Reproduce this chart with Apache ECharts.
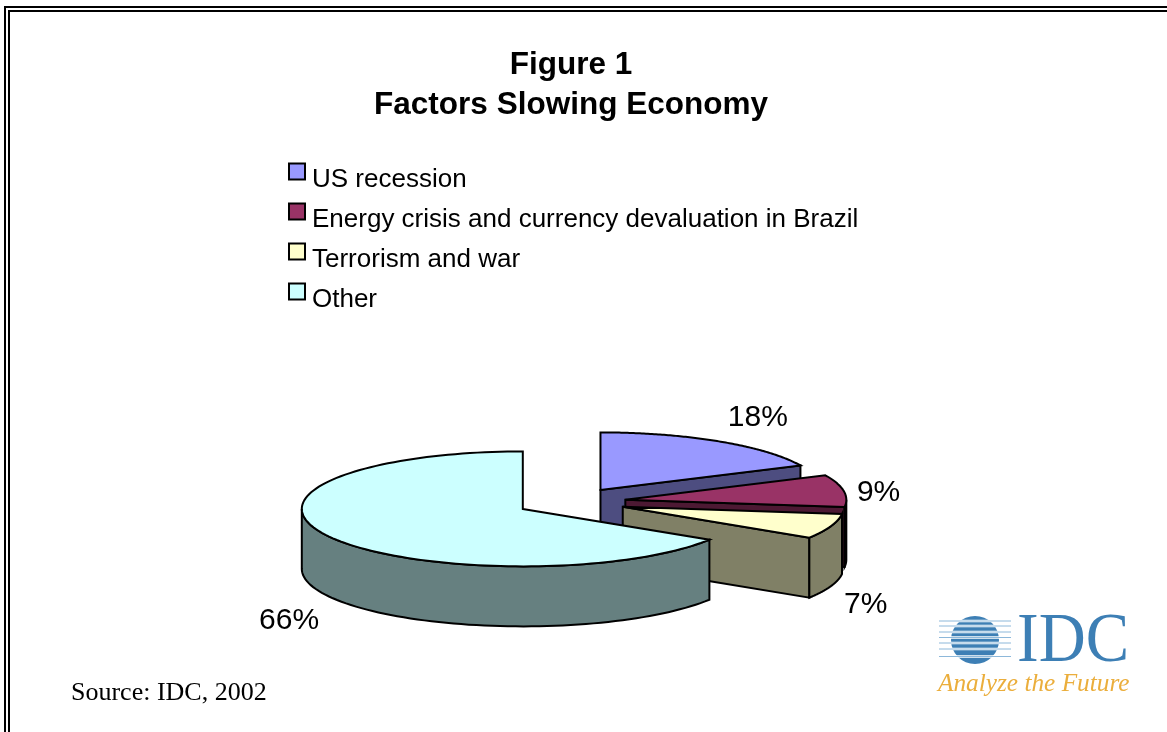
<!DOCTYPE html>
<html>
<head>
<meta charset="utf-8">
<style>html,body{margin:0;padding:0;background:#fff}#c{width:1167px;height:732px}</style>
<script src="https://cdn.jsdelivr.net/npm/echarts@6/dist/echarts.min.js"></script>
</head>
<body>
<div id="c"></div>
<script>
var categories = ['US recession', 'Energy crisis and currency devaluation in Brazil', 'Terrorism and war', 'Other'];
var values = [18, 9, 7, 66];
var topColors = ['#9999FF', '#993366', '#FFFFCC', '#CCFFFF'];
var wallColors = ['#4D4D80', '#4D1933', '#808066', '#668080'];
var titleLines = ['Figure 1', 'Factors Slowing Economy'];
var sourceNote = 'Source: IDC, 2002';
var logoWord = 'IDC';
var logoTagline = 'Analyze the Future';

var PIE = { cx: 571, cy: 502, rx: 221, ry: 57.5, depth: 60, explode: 55 };
var LABEL_NUDGE = [[39, -24], [35, 2], [35, 78], [-40, 84]];
var total = values.reduce(function (a, b) { return a + b; }, 0);

function angleBounds(i) {
  var before = 0;
  for (var k = 0; k < i; k++) before += values[k];
  return [before / total * 2 * Math.PI, (before + values[i]) / total * 2 * Math.PI];
}
function project(ox, oy, t, dz) {
  return [ox + Math.sin(t) * PIE.rx, oy - Math.cos(t) * PIE.ry + (dz || 0)];
}
function renderSlice(i) {
  return function (params, api) {
    var b = angleBounds(i), t0 = b[0], t1 = b[1], mid = (t0 + t1) / 2;
    var ox = PIE.cx + Math.sin(mid) * PIE.explode;
    var oy = PIE.cy - Math.cos(mid) * PIE.explode * PIE.ry / PIE.rx;
    var d = PIE.depth, children = [];
    var line = { stroke: '#000', lineWidth: 2, lineJoin: 'miter' };
    function poly(points, fill) {
      children.push({ type: 'polygon', shape: { points: points }, style: Object.assign({ fill: fill }, line) });
    }
    function wall(t) {
      var p = project(ox, oy, t);
      poly([[ox, oy], p, [p[0], p[1] + d], [ox, oy + d]], wallColors[i]);
    }
    if (Math.sin(t0) < -1e-6) wall(t0);
    if (Math.sin(t1) > 1e-6) wall(t1);
    var a = Math.max(t0, Math.PI / 2), z = Math.min(t1, 1.5 * Math.PI);
    if (z > a) {
      var up = [], down = [], n = 72;
      for (var s = 0; s <= n; s++) {
        var t = a + (z - a) * s / n;
        up.push(project(ox, oy, t));
        down.unshift(project(ox, oy, t, d));
      }
      poly(up.concat(down), wallColors[i]);
    }
    var top = [[ox, oy]], m = 120;
    for (var q = 0; q <= m; q++) top.push(project(ox, oy, t0 + (t1 - t0) * q / m));
    poly(top, topColors[i]);
    var rim = project(ox, oy, mid);
    children.push({
      type: 'text',
      style: {
        text: Math.round(api.value(0)) + '%',
        x: rim[0] + LABEL_NUDGE[i][0], y: rim[1] + LABEL_NUDGE[i][1],
        align: 'center', verticalAlign: 'middle',
        font: '30px "Liberation Sans"', fill: '#000'
      }
    });
    return { type: 'group', children: children };
  };
}

var frame = [
  { type: 'line', shape: { x1: 5, y1: 7, x2: 1167, y2: 7 } },
  { type: 'line', shape: { x1: 9, y1: 11, x2: 1167, y2: 11 } },
  { type: 'line', shape: { x1: 5, y1: 6, x2: 5, y2: 732 } },
  { type: 'line', shape: { x1: 9, y1: 10, x2: 9, y2: 732 } }
].map(function (e) { e.style = { stroke: '#000', lineWidth: 2 }; e.silent = true; return e; });

var logoBlue = '#3D7FB5';
var logo = [
  { type: 'circle', shape: { cx: 975, cy: 640, r: 24 }, style: { fill: logoBlue } }
];
[621, 626, 632, 637.5, 643, 649, 656.5].forEach(function (y) {
  logo.push({ type: 'line', shape: { x1: 939, y1: y, x2: 1011, y2: y }, style: { stroke: '#fff', lineWidth: 2.5 } });
  logo.push({ type: 'line', shape: { x1: 939, y1: y, x2: 1011, y2: y }, style: { stroke: '#8DB8DA', lineWidth: 1 } });
});
logo.push({ type: 'text', x: 1017, y: 643, scaleX: 0.93, style: { text: logoWord, font: '70px "Liberation Serif"', fill: logoBlue, align: 'left', verticalAlign: 'middle' } });
logo.push({ type: 'text', x: 938, y: 684, style: { text: logoTagline, font: 'italic 25.3px "Liberation Serif"', fill: '#EBAE3C', align: 'left', verticalAlign: 'middle' } });
logo.push({ type: 'text', x: 71, y: 693, style: { text: sourceNote, font: '26px "Liberation Serif"', fill: '#000', align: 'left', verticalAlign: 'middle' } });

var chart = echarts.init(document.getElementById('c'), null, { renderer: 'canvas' });
chart.setOption({
  animation: false,
  backgroundColor: '#fff',
  title: {
    text: titleLines.join('\n'),
    left: 566, top: 40, textAlign: 'center',
    textStyle: { fontFamily: 'Liberation Sans', fontWeight: 'bold', fontSize: 31.5, lineHeight: 40, color: '#000' }
  },
  legend: {
    orient: 'vertical', left: 288, top: 150,
    icon: 'rect', itemWidth: 16, itemHeight: 16, itemGap: -3, padding: 0,
    selectedMode: false,
    itemStyle: { borderColor: '#000', borderWidth: 2 },
    formatter: '{t|{name}}',
    textStyle: {
      rich: {
        t: { fontFamily: 'Liberation Sans', fontSize: 26, color: '#000', lineHeight: 24, padding: [17, 0, 0, 2] }
      }
    },
    data: categories
  },
  graphic: { elements: frame.concat(logo) },
  series: categories.map(function (name, i) {
    return {
      type: 'custom', name: name, coordinateSystem: 'none',
      itemStyle: { color: topColors[i] },
      data: [{ name: name, value: [values[i]] }],
      renderItem: renderSlice(i)
    };
  })
});
</script>
</body>
</html>
